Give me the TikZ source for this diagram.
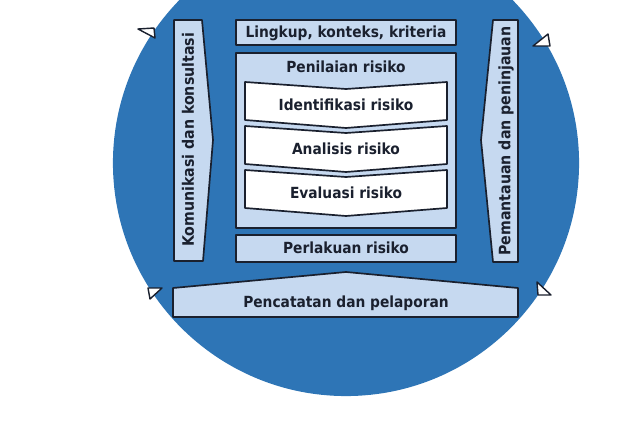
\documentclass[tikz,border=0pt]{standalone}
\usepackage{fontspec}
\setmainfont{DejaVu Sans Condensed}
\definecolor{ringblue}{RGB}{46,117,182}
\definecolor{boxblue}{RGB}{198,217,240}
\definecolor{edgenavy}{RGB}{26,32,46}

\begin{document}
\begin{tikzpicture}[x=0.025cm,y=-0.025cm,
	box/.style={draw=edgenavy,fill=boxblue,line width=1.2pt,line join=round},
	banner/.style={draw=edgenavy,fill=white,line width=1.2pt,line join=round},
	lbl/.style={font=\bfseries\fontsize{10.9}{13}\selectfont,text=edgenavy,inner sep=0pt},
	sidelbl/.style={lbl,font=\bfseries\fontsize{11.2}{13}\selectfont,rotate=90},
	tip/.style={draw=edgenavy,fill=white,line width=1pt,line join=round}]

\useasboundingbox (0,0) rectangle (633,427);
\clip (0,0) rectangle (633,427);

% The circle
\fill[ringblue] (346,163) circle (5.825cm);

% The small arrow tips on the rim
\draw[tip] (138,29) -- (154,28) -- (155,38) -- cycle;
\draw[tip] (533,46) -- (550,46) -- (548,34) -- cycle;
\draw[tip] (148,288) -- (162,288) -- (150,299) -- cycle;
\draw[tip] (537,282) -- (538,295) -- (551,295) -- cycle;

% The side columns
\draw[box] (174,20) -- (202,20) -- (213,140) -- (203,261) -- (174,261) -- cycle;
\node[sidelbl] (komunikasi) at (188,140) {Komunikasi dan konsultasi};

\draw[box] (493,20) -- (518,20) -- (518,262) -- (493,262) -- (481,140) -- cycle;
\node[sidelbl] (pemantauan) at (506,141) {Pemantauan dan peninjauan};

% The middle boxes
\draw[box] (236,20) rectangle (456,45);
\node[lbl] (lingkup) at (346,33) {Lingkup, konteks, kriteria};

\draw[box] (236,53) rectangle (456,228);
\node[lbl] (penilaian) at (346,67) {Penilaian risiko};

\foreach \top/\name/\txt in {82/identifikasi/Identifikasi risiko,126/analisis/Analisis risiko,170/evaluasi/Evaluasi risiko}
{
	\draw[banner] (245,\top) -- (346,\top+7) -- (447,\top) -- (447,\top+38) -- (346,\top+46) -- (245,\top+38) -- cycle;
	\node[lbl] (\name) at (346,\top+23) {\txt};
}

\draw[box] (236,235) rectangle (456,262);
\node[lbl] (perlakuan) at (346,248) {Perlakuan risiko};

% The bottom arrow
\draw[box] (173,288) -- (346,272) -- (518,288) -- (518,317) -- (173,317) -- cycle;
\node[lbl] (pencatatan) at (346,303) {Pencatatan dan pelaporan};

\end{tikzpicture}
\end{document}
